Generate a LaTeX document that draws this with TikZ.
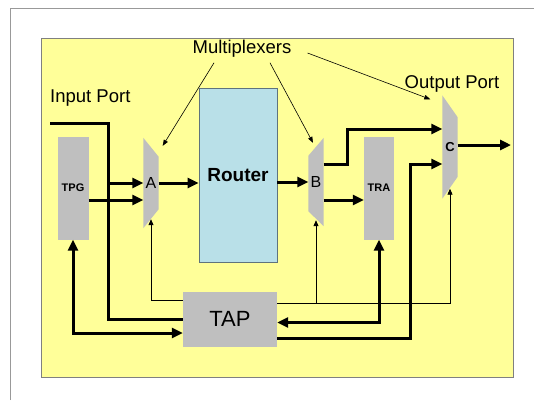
\documentclass[tikz,border=0pt]{standalone}
\usepackage{fontspec}
\setmainfont{Liberation Sans}
\usepackage{tikz}
\usetikzlibrary{arrows.meta,positioning,backgrounds,calc}
\definecolor{panel}{RGB}{255,255,153}
\definecolor{block}{RGB}{191,191,191}
\definecolor{routerfill}{RGB}{185,224,232}
\definecolor{routerline}{RGB}{95,115,125}

\begin{document}
\begin{tikzpicture}[x=1pt, y=-1pt,
  unit/.style={fill=block, inner sep=0pt},
  mux/.style={inner sep=0pt, minimum width=15pt, font=\fontsize{16}{18}\selectfont},
  lbl/.style={inner sep=0pt, font=\fontsize{18.5}{21}\selectfont},
  bus/.style={line width=3pt},
  busarr/.style={bus, -{Triangle[length=11pt,width=10pt]}},
  busboth/.style={bus, {Triangle[length=11pt,width=10pt]}-{Triangle[length=11pt,width=10pt]}},
  ctl/.style={line width=0.9pt, -{Triangle[length=6pt,width=5pt]}},
  note/.style={line width=0.6pt, -{Triangle[length=6pt,width=4.5pt]}}
]
\useasboundingbox (0,0) rectangle (534,400);
\draw[gray!80, line width=1pt] (10,400) -- (10,8) -- (534,8);
\begin{scope}[on background layer]
\filldraw[fill=panel, draw=gray, line width=0.8pt] (41,38) rectangle (513,377);
\end{scope}

\node[unit, minimum width=31pt, minimum height=103pt, font=\bfseries\fontsize{11}{13}\selectfont] (tpg) at (73,188) {TPG};
\node[unit, minimum width=30pt, minimum height=103pt, font=\bfseries\fontsize{11}{13}\selectfont] (tra) at (379,188) {TRA};
\node[draw=routerline, fill=routerfill, line width=0.8pt, minimum width=78pt, minimum height=174pt, font=\bfseries\fontsize{19}{22}\selectfont] (router) at (238,175) {Router};
\node[unit, minimum width=94pt, minimum height=55pt, font=\fontsize{22}{24}\selectfont] (tap) at (230,319) {TAP};

\node[mux, minimum height=90pt] (muxA) at (151,183) {A};
\node[mux, minimum height=88pt] (muxB) at (316,182) {B};
\node[mux, minimum height=103pt, font=\bfseries\fontsize{13}{15}\selectfont] (muxC) at (450,147) {C};
\begin{scope}[on background layer]
\fill[block] (muxA.north west) -- ([yshift=-19pt]muxA.north east) -- ([yshift=19pt]muxA.south east) -- (muxA.south west) -- cycle;
\fill[block] (muxC.north west) -- ([yshift=-22pt]muxC.north east) -- ([yshift=22pt]muxC.south east) -- (muxC.south west) -- cycle;
\fill[block] (muxB.north east) -- ([yshift=-18pt]muxB.north west) -- ([yshift=15pt]muxB.south west) -- (muxB.south east) -- cycle;
\end{scope}

\node[lbl] (muxlbl) at (242,49) {Multiplexers};
\node[lbl, anchor=west] (inport) at (50,98) {Input Port};
\node[lbl] (outport) at (452,84) {Output Port};

\draw[note] ([xshift=-28pt,yshift=-5pt]muxlbl.south) -- ([xshift=4pt,yshift=-8pt]muxA.north east);
\draw[note] ([xshift=28pt,yshift=-5pt]muxlbl.south) -- ([xshift=-3pt,yshift=-5pt]muxB.north);
\draw[note] ([xshift=16pt,yshift=-4pt]muxlbl.east) -- ([xshift=-12pt,yshift=-4pt]muxC.north west);

\coordinate (in) at (50,123);
\coordinate (out) at (511,147);
\coordinate (inbend) at (109,123);
\draw[bus] (in) -| ([xshift=-74pt]tap.west) -- (tap.west);
\draw[busarr] (inbend |- muxA) -- (muxA.west);
\draw[busarr] ([yshift=-12pt]tpg.east) -- ([yshift=-17pt]muxA.west);
\draw[busarr] (muxA.east) -- (muxA.east -| router.west);
\draw[busarr] (router.east |- muxB) -- (muxB.west);
\draw[busarr] ([yshift=18pt]muxB.east) -- ++(24,0) |- ([yshift=18pt]muxC.west);
\draw[busarr] ([yshift=-18pt]muxB.east) -- ([yshift=-12pt]tra.west);
\draw[busarr] ([yshift=2pt]muxC.east) -- ([yshift=2pt]muxC.east -| out);
\draw[busboth] (tpg.south) |- ([yshift=-14pt]tap.west);
\draw[busboth] (tra.south) |- ([yshift=-3.5pt]tap.east);
\draw[busarr] ([yshift=-19pt]tap.east) -- ++(133,0) |- ([yshift=-17pt]muxC.west);

\coordinate (ctlB) at ([yshift=16pt]tap.east);
\draw[ctl] ([yshift=19pt]tap.west) -| ([yshift=9pt]muxA.south);
\draw[ctl] (ctlB) -| ([yshift=10pt]muxC.south);
\draw[ctl] (ctlB -| muxB.south) -- ([yshift=6pt]muxB.south);
\end{tikzpicture}
\end{document}
